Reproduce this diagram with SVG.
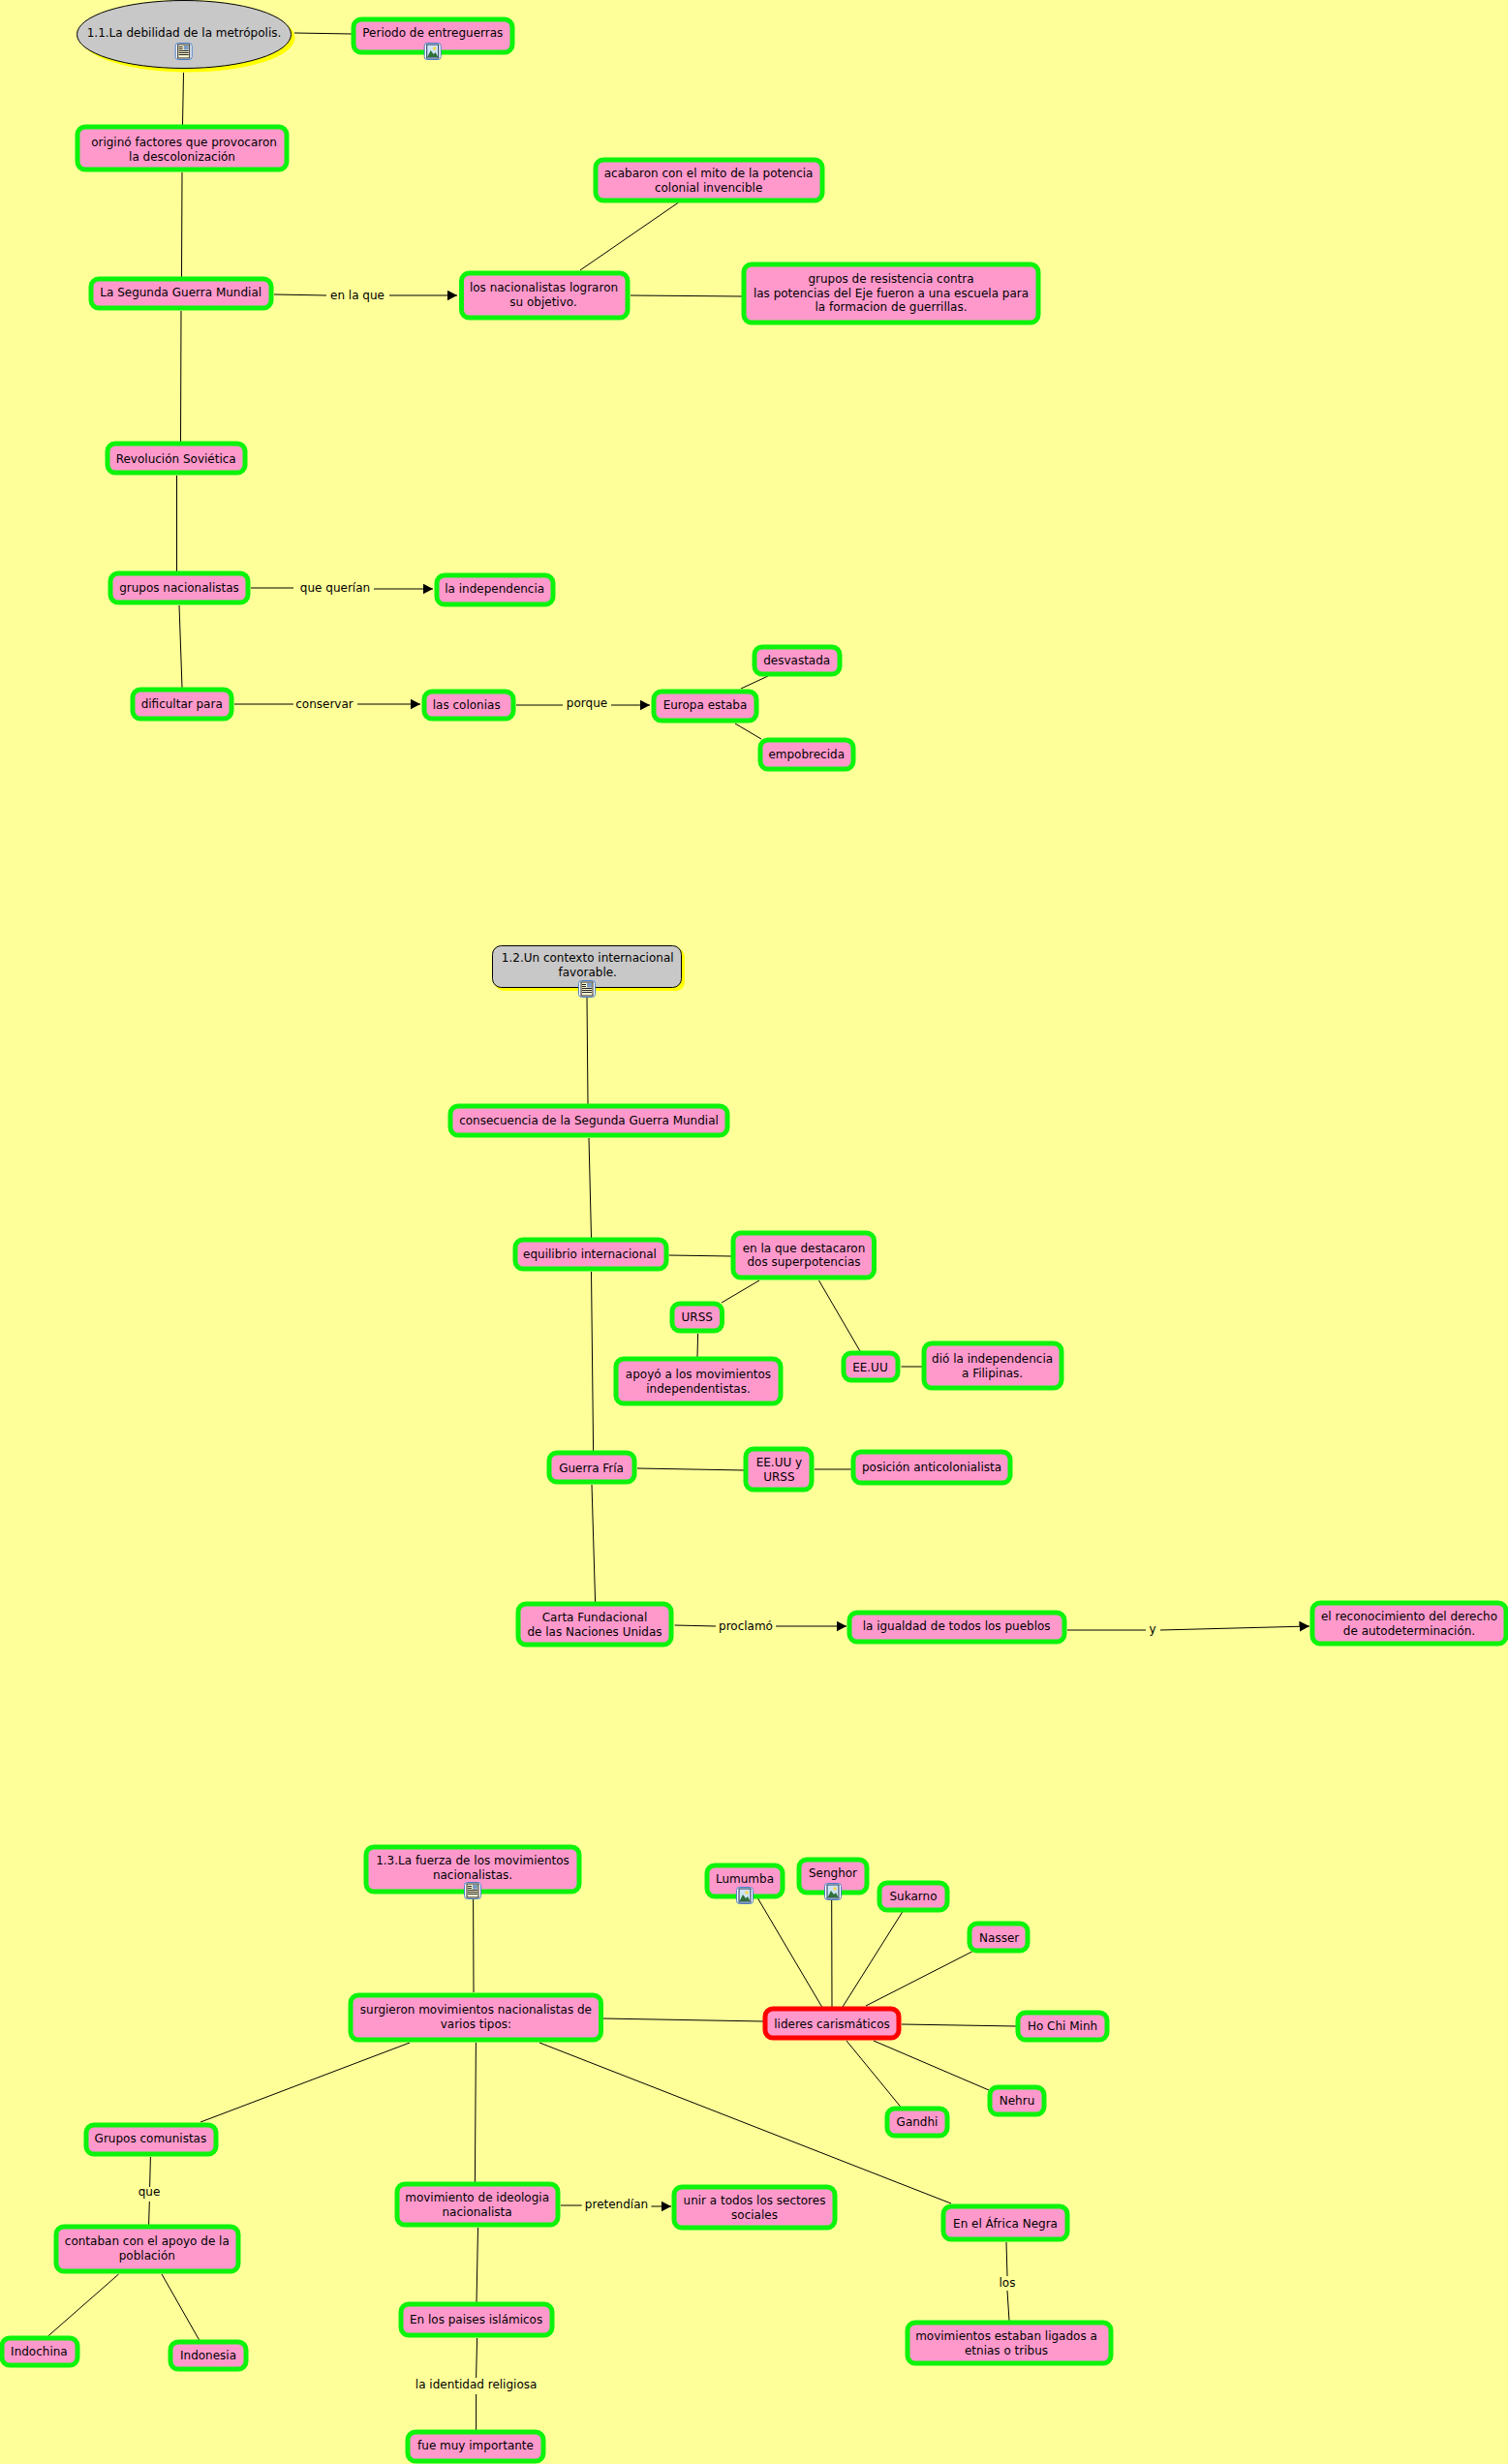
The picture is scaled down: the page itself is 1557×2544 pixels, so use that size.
<svg xmlns="http://www.w3.org/2000/svg" xmlns:xlink="http://www.w3.org/1999/xlink" width="1557" height="2544" viewBox="0 0 1557 2544">
<style>
text{font-family:"DejaVu Sans",Verdana,sans-serif;font-size:12px;fill:#000;text-anchor:middle}
.n{fill:#ff99cc;stroke:#0cf30c;stroke-width:5}
.r{fill:#ff99cc;stroke:#ff0000;stroke-width:5}
.g{fill:#c8c8c8;stroke:#000;stroke-width:1}
.s{fill:#ffff00;stroke:none}
#connectors line{stroke:#000;stroke-width:1;fill:none}
#connectors line.a{marker-end:url(#arrow)}
</style>
<defs>
<marker id="arrow" markerUnits="userSpaceOnUse" markerWidth="12" markerHeight="12" refX="10.500" refY="5.500" orient="auto"><path d="M0 0L10.500 5.500L0 11Z" fill="#000"/></marker>
<g id="imgicon"><rect x="-8.500" y="-8.500" width="17" height="17" rx="3" fill="#fff" stroke="#4a7fc8" stroke-width="1"/><rect x="-6" y="-7" width="12" height="14" fill="#cfe4f5" stroke="#14305a" stroke-width="1"/><circle cx="2" cy="-3" r="1.800" fill="#f4d84c"/><path d="M-5.500 6L-2 -1L1 3L3 1L5.500 6Z" fill="#2f6f3a"/></g>
<g id="docicon"><rect x="-8.500" y="-8.500" width="17" height="17" rx="3" fill="#fff" stroke="#4a7fc8" stroke-width="1"/><rect x="-6" y="-7" width="12" height="14" fill="#fdf8d0" stroke="#222" stroke-width="1"/><rect x="0" y="-6" width="5" height="4.500" fill="#7a9ac0"/><path d="M-5 -4.500H-1M-5 -2.500H-1M-5 -.5H5M-5 1.500H5M-5 3.500H5" stroke="#222" stroke-width="1" fill="none"/></g>
</defs>
<rect width="1557" height="2544" fill="#ffff99"/>
<g id="connectors">
<line x1="189.5" y1="75" x2="188.5" y2="129"/>
<line x1="304" y1="34" x2="363" y2="35"/>
<line x1="188" y1="178" x2="187.5" y2="286"/>
<line x1="283" y1="304" x2="337" y2="305"/>
<line class="a" x1="402" y1="305" x2="472" y2="305"/>
<line x1="187" y1="321" x2="186.5" y2="456"/>
<line x1="182.5" y1="491" x2="182.5" y2="590"/>
<line x1="185" y1="625" x2="188" y2="710"/>
<line x1="259" y1="607" x2="303" y2="607"/>
<line class="a" x1="386" y1="608" x2="447" y2="608"/>
<line x1="242" y1="727" x2="303" y2="727"/>
<line class="a" x1="369" y1="727" x2="434" y2="727"/>
<line x1="533" y1="728" x2="581" y2="728"/>
<line class="a" x1="631" y1="728" x2="671" y2="728"/>
<line x1="765" y1="711" x2="793" y2="698"/>
<line x1="759" y1="747" x2="786" y2="763"/>
<line x1="599" y1="279" x2="700.6" y2="209"/>
<line x1="651" y1="305" x2="766" y2="306"/>
<line x1="606" y1="1029" x2="607" y2="1140"/>
<line x1="608" y1="1175" x2="610.5" y2="1278"/>
<line x1="610.5" y1="1313" x2="612.6" y2="1498"/>
<line x1="611" y1="1533" x2="614.6" y2="1654"/>
<line x1="690.7" y1="1296" x2="755" y2="1297"/>
<line x1="784" y1="1322" x2="745" y2="1345"/>
<line x1="845.5" y1="1322" x2="888" y2="1395"/>
<line x1="720.6" y1="1377" x2="720" y2="1401"/>
<line x1="930.5" y1="1411" x2="952" y2="1411"/>
<line x1="658" y1="1516" x2="768" y2="1518"/>
<line x1="841" y1="1517" x2="879" y2="1517"/>
<line x1="696.6" y1="1678" x2="739" y2="1679"/>
<line class="a" x1="801" y1="1679" x2="874" y2="1679"/>
<line x1="1102" y1="1683" x2="1183" y2="1683"/>
<line class="a" x1="1198" y1="1683" x2="1352" y2="1679"/>
<line x1="488.6" y1="1961" x2="489" y2="2057"/>
<line x1="622.5" y1="2084" x2="788" y2="2087"/>
<line x1="782.5" y1="1960" x2="848.6" y2="2072"/>
<line x1="858.7" y1="1962" x2="859" y2="2072"/>
<line x1="931.7" y1="1974" x2="870" y2="2072"/>
<line x1="1003.7" y1="2015" x2="894" y2="2071"/>
<line x1="931" y1="2090" x2="1049" y2="2092"/>
<line x1="902" y1="2107" x2="1021" y2="2158"/>
<line x1="874" y1="2107" x2="929.7" y2="2175"/>
<line x1="423" y1="2109" x2="207" y2="2191"/>
<line x1="491.4" y1="2109" x2="490.4" y2="2253"/>
<line x1="557" y1="2109" x2="982" y2="2275"/>
<line x1="155.4" y1="2227" x2="154.6" y2="2258"/>
<line x1="154.3" y1="2273" x2="153.6" y2="2297"/>
<line x1="122.5" y1="2348" x2="49.6" y2="2412"/>
<line x1="167" y1="2348" x2="205.7" y2="2416"/>
<line x1="493.5" y1="2300" x2="492" y2="2377"/>
<line x1="492.6" y1="2414" x2="491.6" y2="2455"/>
<line x1="491.6" y1="2472" x2="491.6" y2="2509"/>
<line x1="579" y1="2277" x2="600.7" y2="2277"/>
<line class="a" x1="672.4" y1="2278" x2="693" y2="2278"/>
<line x1="1039" y1="2315" x2="1040" y2="2350"/>
<line x1="1040" y1="2365" x2="1042" y2="2396"/>
<text x="369" y="309">en la que</text>
<text x="346" y="611">que querían</text>
<text x="335" y="731">conservar</text>
<text x="606" y="730">porque</text>
<text x="770" y="1683">proclamó</text>
<text x="1190" y="1686">y</text>
<text x="154" y="2267">que</text>
<text x="491.6" y="2466">la identidad religiosa</text>
<text x="636.5" y="2280">pretendían</text>
<text x="1040" y="2361">los</text>
</g>
<g id="n1"><ellipse class="s" cx="194" cy="39" rx="110.5" ry="35.5"/><ellipse class="g" cx="190" cy="35.5" rx="110.5" ry="35"/><text x="190" y="38">1.1.La debilidad de la metrópolis.</text><use xlink:href="#docicon" href="#docicon" x="189.7" y="53"/></g>
<g id="n2"><rect class="n" x="365" y="20" width="164" height="34" rx="8"/><text x="446.8" y="38">Periodo de entreguerras</text><use xlink:href="#imgicon" href="#imgicon" x="446.7" y="53"/></g>
<g id="n3"><rect class="n" x="80" y="131" width="216" height="44" rx="8"/><text x="190" y="151">originó factores que provocaron</text><text x="188" y="165.5">la descolonización</text></g>
<g id="n4"><rect class="n" x="94" y="288" width="186" height="30" rx="8"/><text x="186.7" y="306">La Segunda Guerra Mundial</text></g>
<g id="n5"><rect class="n" x="476.5" y="282" width="171.5" height="46" rx="8"/><text x="561.5" y="301">los nacionalistas lograron</text><text x="561" y="316">su objetivo.</text></g>
<g id="n6"><rect class="n" x="615" y="165" width="234" height="42" rx="8"/><text x="731.6" y="183">acabaron con el mito de la potencia</text><text x="731.6" y="198">colonial invencible</text></g>
<g id="n7"><rect class="n" x="768" y="273" width="304" height="60" rx="8"/><text x="920" y="292">grupos de resistencia contra</text><text x="920" y="306.7">las potencias del Eje fueron a una escuela para</text><text x="920" y="321">la formacion de guerrillas.</text></g>
<g id="n8"><rect class="n" x="111" y="458" width="142" height="30" rx="8"/><text x="181.7" y="478">Revolución Soviética</text></g>
<g id="n9"><rect class="n" x="114" y="592" width="142" height="30" rx="8"/><text x="185" y="610.5">grupos nacionalistas</text></g>
<g id="n10"><rect class="n" x="451" y="594" width="120" height="30" rx="8"/><text x="510.7" y="612">la independencia</text></g>
<g id="n11"><rect class="n" x="137" y="712" width="102" height="30" rx="8"/><text x="187.7" y="730.7">dificultar para</text></g>
<g id="n12"><rect class="n" x="438" y="714" width="92" height="28" rx="8"/><text x="481.7" y="732">las colonias</text></g>
<g id="n13"><rect class="n" x="675" y="714" width="106" height="30" rx="8"/><text x="728" y="732">Europa estaba</text></g>
<g id="n14"><rect class="n" x="779" y="668" width="88" height="28" rx="8"/><text x="822.7" y="686">desvastada</text></g>
<g id="n15"><rect class="n" x="785" y="764" width="96" height="30" rx="8"/><text x="832.7" y="782.7">empobrecida</text></g>
<g id="n16"><rect class="s" x="511" y="979" width="196" height="44" rx="9"/><rect class="g" x="508.5" y="976.5" width="195" height="43" rx="9"/><text x="606.7" y="993">1.2.Un contexto internacional</text><text x="606.7" y="1007.7">favorable.</text><use xlink:href="#docicon" href="#docicon" x="606" y="1021"/></g>
<g id="n17"><rect class="n" x="465" y="1142" width="286" height="30" rx="8"/><text x="608" y="1160.7">consecuencia de la Segunda Guerra Mundial</text></g>
<g id="n18"><rect class="n" x="532" y="1280" width="156" height="30" rx="8"/><text x="609" y="1298.7">equilibrio internacional</text></g>
<g id="n19"><rect class="n" x="757" y="1273" width="145.500" height="46" rx="8"/><text x="830" y="1292.7">en la que destacaron</text><text x="830" y="1307.4">dos superpotencias</text></g>
<g id="n20"><rect class="n" x="694" y="1346" width="51.500" height="28" rx="8"/><text x="719.7" y="1364">URSS</text></g>
<g id="n21"><rect class="n" x="636" y="1403" width="170" height="46" rx="8"/><text x="721" y="1423">apoyó a los movimientos</text><text x="721" y="1438">independentistas.</text></g>
<g id="n22"><rect class="n" x="871" y="1397" width="56" height="28" rx="8"/><text x="898.4" y="1416">EE.UU</text></g>
<g id="n23"><rect class="n" x="954" y="1387" width="142" height="46" rx="8"/><text x="1024.6" y="1407">dió la independencia</text><text x="1024.6" y="1422">a Filipinas.</text></g>
<g id="n24"><rect class="n" x="567" y="1500" width="88" height="30" rx="8"/><text x="610.6" y="1520">Guerra Fría</text></g>
<g id="n25"><rect class="n" x="770" y="1496" width="68" height="42" rx="8"/><text x="804.4" y="1514">EE.UU y</text><text x="804.4" y="1529">URSS</text></g>
<g id="n26"><rect class="n" x="881" y="1499" width="162" height="32" rx="8"/><text x="962" y="1519">posición anticolonialista</text></g>
<g id="n27"><rect class="n" x="535" y="1656" width="158" height="42" rx="8"/><text x="614" y="1674">Carta Fundacional</text><text x="614" y="1689">de las Naciones Unidas</text></g>
<g id="n28"><rect class="n" x="877" y="1665" width="222" height="30" rx="8"/><text x="987.6" y="1683">la igualdad de todos los pueblos</text></g>
<g id="n29"><rect class="n" x="1355" y="1655" width="200" height="42" rx="8"/><text x="1455" y="1673">el reconocimiento del derecho</text><text x="1455" y="1688">de autodeterminación.</text></g>
<g id="n30"><rect class="n" x="378" y="1907" width="220" height="46" rx="8"/><text x="488" y="1925">1.3.La fuerza de los movimientos</text><text x="488" y="1940">nacionalistas.</text><use xlink:href="#docicon" href="#docicon" x="488" y="1952"/></g>
<g id="n31"><rect class="n" x="730" y="1926" width="78" height="32" rx="8"/><text x="769" y="1944">Lumumba</text><use xlink:href="#imgicon" href="#imgicon" x="769" y="1957"/></g>
<g id="n32"><rect class="n" x="825" y="1920" width="70" height="34" rx="8"/><text x="860" y="1938">Senghor</text><use xlink:href="#imgicon" href="#imgicon" x="860" y="1953"/></g>
<g id="n33"><rect class="n" x="362" y="2060" width="258.500" height="46" rx="8"/><text x="491.4" y="2079">surgieron movimientos nacionalistas de</text><text x="491.4" y="2094">varios tipos:</text></g>
<g id="n34"><rect class="r" x="790" y="2074" width="138" height="30" rx="8"/><text x="859" y="2094">lideres carismáticos</text></g>
<g id="n35"><rect class="n" x="908" y="1944" width="70" height="28" rx="8"/><text x="943" y="1962">Sukarno</text></g>
<g id="n36"><rect class="n" x="1001" y="1986" width="60" height="28" rx="8"/><text x="1031.7" y="2005">Nasser</text></g>
<g id="n37"><rect class="n" x="1051" y="2078" width="92" height="28" rx="8"/><text x="1097" y="2096">Ho Chi Minh</text></g>
<g id="n38"><rect class="n" x="1022" y="2155" width="56" height="28" rx="8"/><text x="1050" y="2173">Nehru</text></g>
<g id="n39"><rect class="n" x="916" y="2177" width="62" height="28" rx="8"/><text x="947" y="2195">Gandhi</text></g>
<g id="n40"><rect class="n" x="89" y="2194" width="134" height="30" rx="8"/><text x="155.4" y="2212">Grupos comunistas</text></g>
<g id="n41"><rect class="n" x="58" y="2299" width="188" height="46" rx="8"/><text x="151.800" y="2318">contaban con el apoyo de la</text><text x="151.800" y="2333">población</text></g>
<g id="n42"><rect class="n" x="2" y="2414" width="78" height="28" rx="8"/><text x="40.400" y="2432">Indochina</text></g>
<g id="n43"><rect class="n" x="176" y="2418" width="78" height="28" rx="8"/><text x="215" y="2436">Indonesia</text></g>
<g id="n44"><rect class="n" x="410" y="2255" width="166" height="42" rx="8"/><text x="492.6" y="2273">movimiento de ideologia</text><text x="492.6" y="2288">nacionalista</text></g>
<g id="n45"><rect class="n" x="696" y="2258" width="166" height="42" rx="8"/><text x="779" y="2276">unir a todos los sectores</text><text x="779" y="2291">sociales</text></g>
<g id="n46"><rect class="n" x="414" y="2379" width="156" height="32" rx="8"/><text x="491.6" y="2399">En los paises islámicos</text></g>
<g id="n47"><rect class="n" x="421" y="2511" width="140" height="30" rx="8"/><text x="491" y="2529">fue muy importante</text></g>
<g id="n48"><rect class="n" x="974" y="2278" width="128" height="34" rx="8"/><text x="1038" y="2300">En el África Negra</text></g>
<g id="n49"><rect class="n" x="937" y="2398" width="210" height="42" rx="8"/><text x="1039" y="2416">movimientos estaban ligados a</text><text x="1039" y="2431">etnias o tribus</text></g>
</svg>
